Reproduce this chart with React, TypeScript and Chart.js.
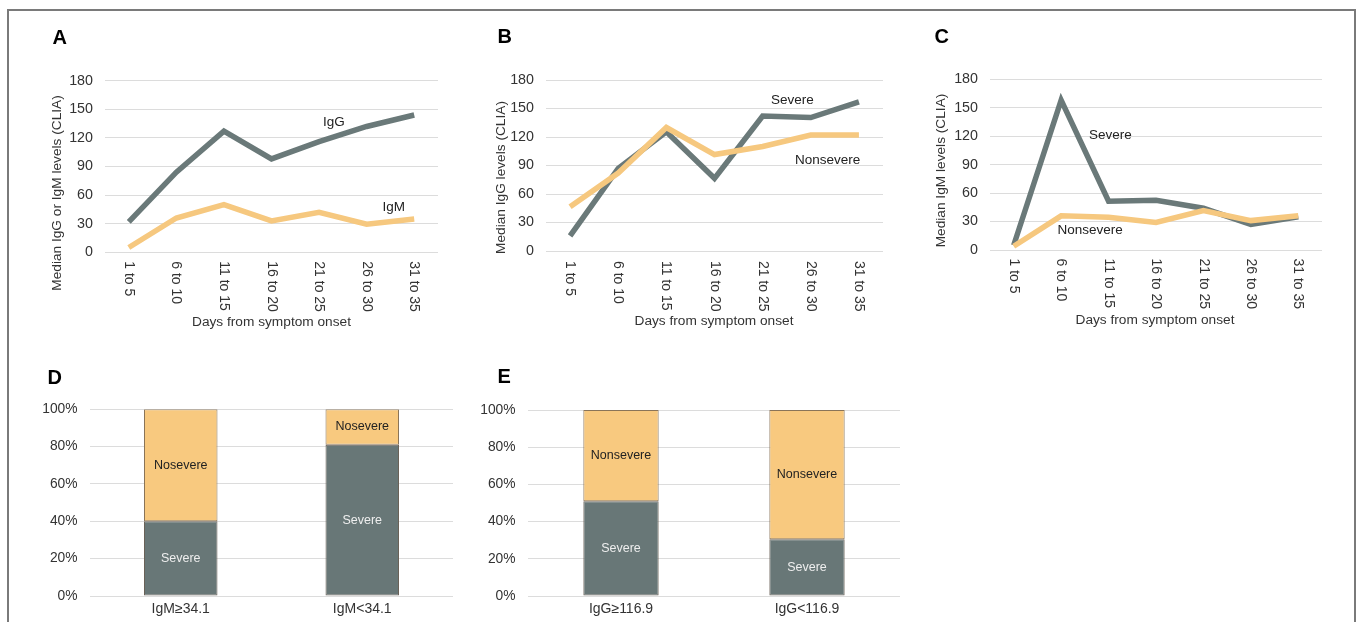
import React, { useEffect, useRef } from 'react';
import { Chart, registerables } from 'chart.js';

Chart.register(...registerables);

const FONT = '"Liberation Sans", Arial, Helvetica, sans-serif';
const GRAY = '#6a7979';
const YELLOW = '#f6c87f';
const GRID = '#dcdcdc';
const TEXT = '#333333';

// ---------- data ----------
const days = ['1 to 5', '6 to 10', '11 to 15', '16 to 20', '21 to 25', '26 to 30', '31 to 35'];

const aIgG = [32, 84, 127, 98, 116, 132, 144];
const aIgM = [5, 36, 50, 33, 42, 29.5, 35];

const bSevere = [16, 87, 125.5, 76.5, 142, 140.5, 157];
const bNonsevere = [46.5, 82, 130, 101.5, 110, 122, 122];

const cSevere = [5, 158, 51.5, 52.5, 44, 27, 35];
const cNonsevere = [4, 36, 34.5, 29, 41.5, 31, 36];

const aNotes = [
  { text: 'IgG', x: 4.31, y: 136 },
  { text: 'IgM', x: 5.57, y: 47.5 },
];
const bNotes = [
  { text: 'Severe', x: 4.62, y: 159 },
  { text: 'Nonsevere', x: 5.35, y: 96 },
];
const cNotes = [
  { text: 'Severe', x: 2.04, y: 121 },
  { text: 'Nonsevere', x: 1.61, y: 21 },
];

const dCats = ['IgM≥34.1', 'IgM<34.1'];
const dSevere = [40, 81];
const dNonsevere = [60, 19];

const eCats = ['IgG≥116.9', 'IgG<116.9'];
const eSevere = [51, 30.5];
const eNonsevere = [49, 69.5];

// ---------- layout ----------
type Rect = { left: number; top: number; width: number; height: number };

type LinePanel = {
  rect: Rect;
  area: { left: number; top: number; right: number; bottom: number };
  letter: string;
  letterPos: [number, number];
  yTitle: string;
  yTitlePos: [number, number];
  xTitlePos: [number, number];
  labelGap: number;
  series: { label: string; data: number[]; color: string }[];
  notes: { text: string; x: number; y: number }[];
};

const panelA: LinePanel = {
  rect: { left: 30, top: 20, width: 425, height: 320 },
  area: { left: 105, top: 80.7, right: 438, bottom: 252.3 },
  letter: 'A',
  letterPos: [52.5, 38],
  yTitle: 'Median IgG or IgM levels (CLIA)',
  yTitlePos: [57, 193],
  xTitlePos: [271.5, 322.5],
  labelGap: 9,
  series: [
    { label: 'IgG', data: aIgG, color: GRAY },
    { label: 'IgM', data: aIgM, color: YELLOW },
  ],
  notes: aNotes,
};

const panelB: LinePanel = {
  rect: { left: 460, top: 20, width: 440, height: 320 },
  area: { left: 546, top: 80, right: 883, bottom: 251 },
  letter: 'B',
  letterPos: [497.5, 37.5],
  yTitle: 'Median IgG levels (CLIA)',
  yTitlePos: [501.5, 177.5],
  xTitlePos: [714, 321.5],
  labelGap: 10,
  series: [
    { label: 'Nonsevere', data: bNonsevere, color: YELLOW },
    { label: 'Severe', data: bSevere, color: GRAY },
  ],
  notes: bNotes,
};

const panelC: LinePanel = {
  rect: { left: 905, top: 20, width: 440, height: 320 },
  area: { left: 990, top: 79.3, right: 1322, bottom: 250 },
  letter: 'C',
  letterPos: [934.5, 37.5],
  yTitle: 'Median IgM levels (CLIA)',
  yTitlePos: [941.5, 170.5],
  xTitlePos: [1155, 320.5],
  labelGap: 8.5,
  series: [
    { label: 'Nonsevere', data: cNonsevere, color: YELLOW },
    { label: 'Severe', data: cSevere, color: GRAY },
  ],
  notes: cNotes,
};

type BarPanel = {
  rect: Rect;
  area: { left: number; top: number; right: number; bottom: number };
  letter: string;
  letterPos: [number, number];
  cats: string[];
  severe: number[];
  nonsevere: number[];
  nonsevereLabel: string;
};

const panelD: BarPanel = {
  rect: { left: 20, top: 340, width: 450, height: 290 },
  area: { left: 90, top: 409.3, right: 453, bottom: 596 },
  letter: 'D',
  letterPos: [47.5, 378],
  cats: dCats,
  severe: dSevere,
  nonsevere: dNonsevere,
  nonsevereLabel: 'Nosevere',
};

const panelE: BarPanel = {
  rect: { left: 460, top: 340, width: 460, height: 290 },
  area: { left: 528, top: 410, right: 900, bottom: 596 },
  letter: 'E',
  letterPos: [497.5, 377.5],
  cats: eCats,
  severe: eSevere,
  nonsevere: eNonsevere,
  nonsevereLabel: 'Nonsevere',
};

// ---------- builders ----------
function linePlugin(p: LinePanel) {
  const { left, top } = p.rect;
  return {
    id: 'lineText',
    afterDraw(chart: any) {
      const ctx = chart.ctx as CanvasRenderingContext2D;
      const xs = chart.scales.x;
      const ys = chart.scales.y;
      ctx.save();
      // panel letter
      ctx.fillStyle = '#000';
      ctx.font = `bold 20px ${FONT}`;
      ctx.textAlign = 'left';
      ctx.textBaseline = 'middle';
      ctx.fillText(p.letter, p.letterPos[0] - left, p.letterPos[1] - top);
      // rotated category labels
      ctx.fillStyle = TEXT;
      ctx.font = `14px ${FONT}`;
      (chart.data.labels as string[]).forEach((lab, i) => {
        const px = xs.getPixelForValue(i);
        ctx.save();
        ctx.translate(px, ys.bottom + p.labelGap);
        ctx.rotate(Math.PI / 2);
        ctx.textAlign = 'left';
        ctx.textBaseline = 'middle';
        ctx.fillText(lab, 0, 0);
        ctx.restore();
      });
      // series annotations
      ctx.fillStyle = '#222';
      ctx.font = `13.5px ${FONT}`;
      ctx.textAlign = 'center';
      ctx.textBaseline = 'middle';
      p.notes.forEach((n) => {
        ctx.fillText(n.text, xs.getPixelForValue(n.x), ys.getPixelForValue(n.y));
      });
      // axis titles
      ctx.fillStyle = TEXT;
      ctx.font = `13.7px ${FONT}`;
      ctx.fillText('Days from symptom onset', p.xTitlePos[0] - left, p.xTitlePos[1] - top);
      ctx.save();
      ctx.translate(p.yTitlePos[0] - left, p.yTitlePos[1] - top);
      ctx.rotate(-Math.PI / 2);
      ctx.fillText(p.yTitle, 0, 0);
      ctx.restore();
      ctx.restore();
    },
  };
}

function lineConfig(p: LinePanel): any {
  const r = p.rect;
  return {
    type: 'line',
    data: {
      labels: days,
      datasets: p.series.map((s) => ({
        label: s.label,
        data: s.data,
        borderColor: s.color,
        backgroundColor: s.color,
        borderWidth: 5.5,
        pointRadius: 0,
        tension: 0,
        fill: false,
      })),
    },
    options: {
      animation: false,
      responsive: false,
      maintainAspectRatio: false,
      events: [],
      layout: {
        padding: {
          left: 0,
          top: p.area.top - r.top,
          right: r.left + r.width - p.area.right,
          bottom: 0,
        },
      },
      plugins: { legend: { display: false }, tooltip: { enabled: false }, title: { display: false } },
      scales: {
        x: {
          type: 'category',
          offset: true,
          grid: { display: false },
          border: { display: false },
          ticks: { display: false },
          afterFit: (s: any) => {
            s.height = r.top + r.height - p.area.bottom;
          },
        },
        y: {
          min: 0,
          max: 180,
          ticks: { stepSize: 30, padding: 12, color: TEXT, font: { size: 14.3, family: FONT } },
          grid: { color: GRID, drawTicks: false, lineWidth: 1 },
          border: { display: false },
          afterFit: (s: any) => {
            s.width = p.area.left - r.left;
          },
        },
      },
    },
    plugins: [linePlugin(p)],
  };
}

function barPlugin(p: BarPanel) {
  const { left, top } = p.rect;
  return {
    id: 'barText',
    afterDraw(chart: any) {
      const ctx = chart.ctx as CanvasRenderingContext2D;
      ctx.save();
      ctx.fillStyle = '#000';
      ctx.font = `bold 20px ${FONT}`;
      ctx.textAlign = 'left';
      ctx.textBaseline = 'middle';
      ctx.fillText(p.letter, p.letterPos[0] - left, p.letterPos[1] - top);
      ctx.font = `12.5px ${FONT}`;
      ctx.textAlign = 'center';
      chart.data.datasets.forEach((ds: any, di: number) => {
        const meta = chart.getDatasetMeta(di);
        ctx.fillStyle = di === 0 ? '#eeeeee' : '#222222';
        meta.data.forEach((bar: any) => {
          ctx.fillText(ds.label, bar.x, (bar.y + bar.base) / 2);
        });
      });
      ctx.restore();
    },
  };
}

function barConfig(p: BarPanel): any {
  const r = p.rect;
  return {
    type: 'bar',
    data: {
      labels: p.cats,
      datasets: [
        {
          label: 'Severe',
          data: p.severe,
          backgroundColor: '#687777',
          borderColor: '#6a6258',
          borderWidth: 1,
          borderSkipped: false,
        },
        {
          label: p.nonsevereLabel,
          data: p.nonsevere,
          backgroundColor: '#f8c97f',
          borderColor: '#8a7458',
          borderWidth: 1,
          borderSkipped: false,
        },
      ],
    },
    options: {
      animation: false,
      responsive: false,
      maintainAspectRatio: false,
      events: [],
      datasets: { bar: { categoryPercentage: 0.405, barPercentage: 1 } },
      layout: {
        padding: {
          left: 0,
          top: p.area.top - r.top,
          right: r.left + r.width - p.area.right,
          bottom: 0,
        },
      },
      plugins: { legend: { display: false }, tooltip: { enabled: false }, title: { display: false } },
      scales: {
        x: {
          stacked: true,
          grid: { display: false },
          border: { display: false },
          ticks: { padding: -3, color: TEXT, font: { size: 14, family: FONT }, maxRotation: 0 },
          afterFit: (s: any) => {
            s.height = r.top + r.height - p.area.bottom;
          },
        },
        y: {
          stacked: true,
          min: 0,
          max: 100,
          ticks: {
            stepSize: 20,
            padding: 12.5,
            color: TEXT,
            font: { size: 13.8, family: FONT },
            callback: (v: number) => `${v}%`,
          },
          grid: { color: GRID, drawTicks: false, lineWidth: 1 },
          border: { display: false },
          afterFit: (s: any) => {
            s.width = p.area.left - r.left;
          },
        },
      },
    },
    plugins: [barPlugin(p)],
  };
}

const configs: { rect: Rect; make: () => any }[] = [
  { rect: panelA.rect, make: () => lineConfig(panelA) },
  { rect: panelB.rect, make: () => lineConfig(panelB) },
  { rect: panelC.rect, make: () => lineConfig(panelC) },
  { rect: panelD.rect, make: () => barConfig(panelD) },
  { rect: panelE.rect, make: () => barConfig(panelE) },
];

export default function App() {
  const refs = useRef<(HTMLCanvasElement | null)[]>([]);

  useEffect(() => {
    Chart.defaults.font.family = FONT;
    const charts: Chart[] = [];
    configs.forEach((c, i) => {
      const el = refs.current[i];
      if (el) charts.push(new Chart(el, c.make()));
    });
    return () => charts.forEach((ch) => ch.destroy());
  }, []);

  return (
    <div
      style={{
        position: 'fixed',
        left: 0,
        top: 0,
        width: 1357,
        height: 622,
        overflow: 'hidden',
        background: '#ffffff',
      }}
    >
      <div
        style={{
          position: 'absolute',
          left: 7,
          top: 9,
          width: 1345,
          height: 700,
          border: '2px solid #7a7a7a',
        }}
      />
      {configs.map((c, i) => (
        <canvas
          key={i}
          ref={(el) => {
            refs.current[i] = el;
          }}
          width={c.rect.width}
          height={c.rect.height}
          style={{
            position: 'absolute',
            left: c.rect.left,
            top: c.rect.top,
            width: c.rect.width,
            height: c.rect.height,
          }}
        />
      ))}
    </div>
  );
}
